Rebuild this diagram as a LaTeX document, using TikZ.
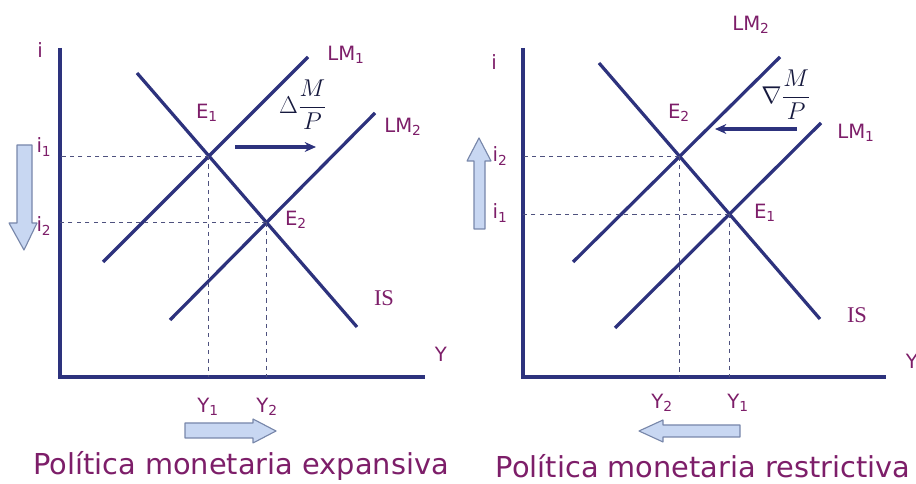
\documentclass[tikz,border=0pt]{standalone}
\usepackage{fontspec}
\setmainfont{DejaVu Sans}
\newfontfamily\isfont{Liberation Serif}
\usepackage{amsmath,amssymb}
\usetikzlibrary{intersections,arrows.meta}

\definecolor{navy}{RGB}{45,50,125}
\definecolor{plum}{RGB}{125,30,105}
\definecolor{arrowfill}{RGB}{200,215,242}
\definecolor{arrowedge}{RGB}{120,135,170}

\begin{document}
\begin{tikzpicture}[
    x=0.025cm, y=-0.025cm,
    axis/.style={draw=navy, line width=2.8pt},
    curve/.style={draw=navy, line width=2.3pt},
    guide/.style={draw=navy!60!gray, dashed, line width=0.7pt},
    lbl/.style={text=plum, font=\fontsize{14}{16}\selectfont, inner sep=1pt},
    islbl/.style={text=plum, font=\fontsize{16}{18}\isfont, inner sep=1pt},
    frac/.style={text=navy!50!black, font=\LARGE},
    moveArr/.style={-{Stealth[length=8pt,width=7pt]}, draw=navy, line width=2.2pt},
    hollow/.style={fill=arrowfill, draw=arrowedge, thick, line join=round},
    title/.style={text=plum, font=\fontsize{20.5}{24}\selectfont},
  ]
    \useasboundingbox (0,0) rectangle (916,484);

    % expansive policy
    \coordinate (oA) at (60,377);
    \coordinate (topA) at (60,48);
    \coordinate (endA) at (425,377);
    \draw[axis] (topA) -- (oA) -- (endA);
    \node[lbl] at (40,50) {i};
    \node[lbl] at (441,354) {Y};

    \coordinate (lmAa) at (103,262);
    \coordinate (lmAb) at (308,57);
    \coordinate (lmBa) at (170,320);
    \coordinate (lmBb) at (375,113);
    \coordinate (isAa) at (137,73);
    \coordinate (isAb) at (357,327);
    \draw[curve, name path=lmA] (lmAa) -- (lmAb);
    \draw[curve, name path=lmB] (lmBa) -- (lmBb);
    \draw[curve, name path=isA] (isAa) -- (isAb);
    \path[name intersections={of=lmA and isA, by=E1}];
    \path[name intersections={of=lmB and isA, by=E2}];

    \draw[guide] (E1) -- (E1 -| oA);
    \draw[guide] (E2) -- (E2 -| oA);
    \draw[guide] (E1) -- (E1 |- oA);
    \draw[guide] (E2) -- (E2 |- oA);

    \node[lbl] (lmAlbl) at (346,55) {LM\textsubscript{1}};
    \node[lbl] (lmBlbl) at (403,127) {LM\textsubscript{2}};
    \node[lbl] (e1lbl) at (207,113) {E\textsubscript{1}};
    \node[lbl] (e2lbl) at (296,220) {E\textsubscript{2}};
    \node[islbl] (isAlbl) at (384,298) {IS};
    \node[lbl] (i1A) at (44,147) {i\textsubscript{1}};
    \node[lbl] (i2A) at (44,226) {i\textsubscript{2}};
    \node[lbl] (y1A) at (208,407) {Y\textsubscript{1}};
    \node[lbl] (y2A) at (267,407) {Y\textsubscript{2}};

    \node[frac] (dmp) at (303,105) {$\Delta\dfrac{M}{P}$};
    \coordinate (shAa) at (235,147);
    \coordinate (shAb) at (316,147);
    \draw[moveArr] (shAa) -- (shAb);

    \draw[hollow] (17,145) -- (32,145) -- (32,223) -- (37,223) -- (24,250)
      -- (9,223) -- (17,223) -- cycle;
    \draw[hollow] (185,423) -- (253,423) -- (253,419) -- (276,431)
      -- (253,443) -- (253,438) -- (185,438) -- cycle;
    \node[title] (titA) at (241,466) {Política monetaria expansiva};

    % restrictive policy
    \coordinate (oB) at (523,377);
    \coordinate (topB) at (523,48);
    \coordinate (endB) at (886,377);
    \draw[axis] (topB) -- (oB) -- (endB);
    \node[lbl] at (494,62) {i};
    \node[lbl] at (912,361) {Y};

    \coordinate (lmCa) at (573,262);
    \coordinate (lmCb) at (780,57);
    \coordinate (lmDa) at (615,328);
    \coordinate (lmDb) at (821,123);
    \coordinate (isBa) at (599,63);
    \coordinate (isBb) at (820,319);
    \draw[curve, name path=lmC] (lmCa) -- (lmCb);
    \draw[curve, name path=lmD] (lmDa) -- (lmDb);
    \draw[curve, name path=isB] (isBa) -- (isBb);
    \path[name intersections={of=lmC and isB, by=F2}];
    \path[name intersections={of=lmD and isB, by=F1}];

    \draw[guide] (F2) -- (F2 -| oB);
    \draw[guide] (F1) -- (F1 -| oB);
    \draw[guide] (F2) -- (F2 |- oB);
    \draw[guide] (F1) -- (F1 |- oB);

    \node[lbl] (lmClbl) at (751,25) {LM\textsubscript{2}};
    \node[lbl] (lmDlbl) at (856,133) {LM\textsubscript{1}};
    \node[lbl] (f2lbl) at (679,113) {E\textsubscript{2}};
    \node[lbl] (f1lbl) at (765,213) {E\textsubscript{1}};
    \node[islbl] (isBlbl) at (857,315) {IS};
    \node[lbl] (i2B) at (500,156) {i\textsubscript{2}};
    \node[lbl] (i1B) at (500,213) {i\textsubscript{1}};
    \node[lbl] (y2B) at (662,403) {Y\textsubscript{2}};
    \node[lbl] (y1B) at (738,403) {Y\textsubscript{1}};

    \node[frac] (nmp) at (786,95) {$\nabla\dfrac{M}{P}$};
    \coordinate (shBa) at (797,129);
    \coordinate (shBb) at (715,129);
    \draw[moveArr] (shBa) -- (shBb);

    \draw[hollow] (474,229) -- (485,229) -- (485,161) -- (491,161) -- (479,138)
      -- (467,161) -- (474,161) -- cycle;
    \draw[hollow] (740,425) -- (663,425) -- (663,420) -- (639,431)
      -- (663,442) -- (663,437) -- (740,437) -- cycle;
    \node[title] (titB) at (703,466) {Política monetaria restrictiva};
\end{tikzpicture}
\end{document}
